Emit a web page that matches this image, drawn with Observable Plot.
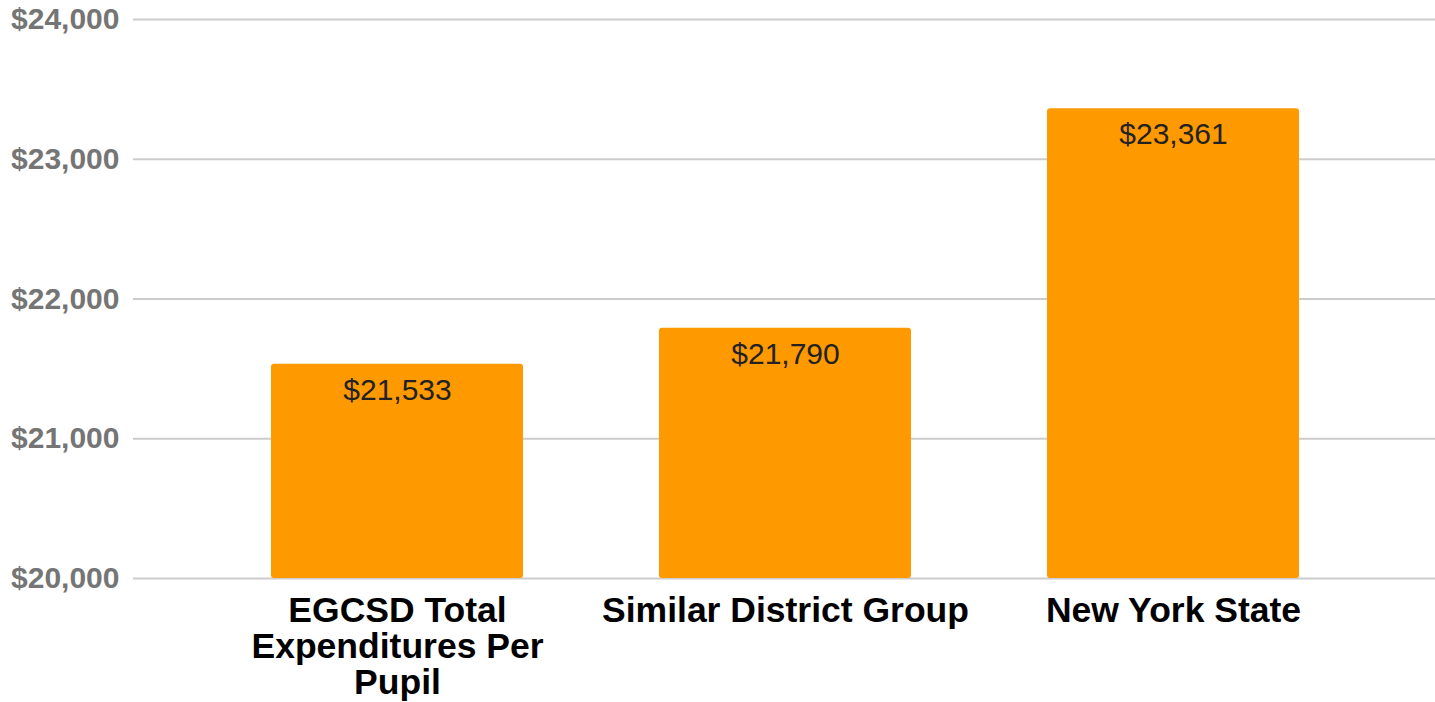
<!DOCTYPE html>
<html>
<head>
<meta charset="utf-8">
<script src="https://cdn.jsdelivr.net/npm/d3@7"></script>
<script src="https://cdn.jsdelivr.net/npm/@observablehq/plot@0.6"></script>
<style>
  html, body { margin: 0; padding: 0; background: #fff; }
  #chart svg { display: block; }
</style>
</head>
<body>
<div id="chart"></div>
<script>
const categories = ["EGCSD Total Expenditures Per Pupil", "Similar District Group", "New York State"];
const categoryLabels = ["EGCSD Total\nExpenditures Per\nPupil", "Similar District Group", "New York State"];
const values = [21533, 21790, 23361];
const yTicks = [20000, 21000, 22000, 23000, 24000];

const data = categories.map((c, i) => ({category: c, label: categoryLabels[i], value: values[i]}));
const fmt = d3.format("$,");
const labelOf = new Map(data.map(d => [d.category, d.label]));

const chart = Plot.plot({
  width: 1435,
  height: 702,
  marginLeft: 133,
  marginRight: 0,
  marginTop: 19,
  marginBottom: 124,
  style: {fontFamily: "'Liberation Sans', Arial, sans-serif", background: "#fff"},
  x: {domain: categories, range: [134, 1437], paddingInner: 0.35, paddingOuter: 0.35, axis: null},
  y: {domain: [20000, 24000], axis: null},
  marks: [
    Plot.gridY(yTicks, {stroke: "#cccccc", strokeOpacity: 1, strokeWidth: 2}),
    Plot.axisY(yTicks, {
      tickSize: 0, tickPadding: 14, tickFormat: fmt,
      fontSize: 30, fontWeight: "bold", fill: "#757575", label: null
    }),
    Plot.barY(data, {x: "category", y1: 20000, y2: "value", fill: "#ff9900", rx: 3}),
    Plot.text(data, {
      x: "category", y: "value", text: d => fmt(d.value),
      dy: 26, fontSize: 30, fill: "#222222"
    }),
    Plot.axisX({
      tickSize: 0, tickPadding: 18, tickFormat: d => labelOf.get(d),
      fontSize: 35.5, fontWeight: "bold", fill: "#000", lineHeight: 1.015, label: null
    })
  ]
});
document.getElementById("chart").appendChild(chart);
</script>
</body>
</html>
